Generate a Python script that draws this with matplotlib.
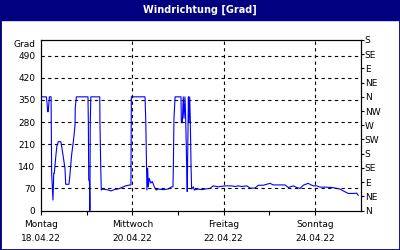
import matplotlib.pyplot as plt
from matplotlib.patches import Rectangle

# hours since 18.04.22 00:00 and wind direction in degrees
hours = [0, 2.8, 3.2, 3.5, 3.8, 4.4, 5.3, 5.6, 6.3, 6.7, 7.0, 7.7, 8.3, 9.1, 10.4,
         10.9, 11.7, 12.6, 13.0, 14.7, 15.2, 16.1, 17.0, 17.4, 17.9, 18.0, 18.6,
         24.7, 24.9, 25.1, 25.5, 25.7, 25.9, 26.2, 30.9, 31.0, 31.4, 31.7, 32.6,
         35.4, 36.8, 38.9, 40.6, 43.3, 44.5, 46.8, 47.3, 47.5, 54.7, 55.1, 55.7,
         56.1, 56.4, 56.9, 57.7, 58.5, 59.6, 60.5, 61.7, 64.3, 66.9, 68.7, 69.4,
         69.6, 69.9, 70.5, 73.6, 73.8, 74.3, 74.8, 75.2, 75.7, 76.1, 76.6, 76.9,
         77.5, 77.8, 78.2, 78.5, 78.9, 79.2, 80.1, 80.6, 82.7, 84.5, 86.2, 88.9,
         90.6, 93.2, 96.7, 100.3, 102.0, 103.7, 105.5, 108.2, 109.9, 112.5, 114.3,
         116.9, 120.4, 122.1, 128.3, 130.0, 132.7, 134.4, 136.2, 137.9, 140.5,
         142.0, 143.2, 145.0, 146.7, 149.3, 152.9, 157.2, 159.9, 161.6, 164.2,
         166.0, 166.8]
grad = [360, 360, 340, 313, 313, 360, 360, 118, 33, 118, 118, 166, 202, 218, 218,
        202, 170, 134, 83, 83, 112, 176, 218, 240, 271, 324, 360,
        360, 276, 97, 91, 0, 276, 360, 360, 278, 139, 65, 68,
        65, 62, 67, 68, 75, 78, 81, 81, 360, 360, 281, 65,
        134, 75, 102, 87, 92, 75, 65, 68, 66, 68, 75, 75,
        139, 287, 360, 360, 278, 278, 360, 292, 360, 287, 139, 60,
        360, 278, 360, 287, 139, 68, 75, 65, 68, 66, 68, 70,
        78, 75, 78, 78, 76, 78, 76, 78, 71, 71, 80,
        80, 86, 81, 81, 73, 78, 73, 70, 80, 86,
        81, 78, 78, 74, 74, 73, 68, 59, 54, 54,
        55, 48]

day_ticks = [0, 24, 48, 72, 96, 120, 144]
day_labels = ['Montag\n18.04.22', '', 'Mittwoch\n20.04.22', '',
              'Freitag\n22.04.22', '', 'Sonntag\n24.04.22']
grad_ticks = [0, 70, 140, 210, 280, 350, 420, 490]
dir_ticks = list(range(0, 541, 45))
dir_labels = ['N', 'NE', 'E', 'SE', 'S', 'SW', 'W', 'NW', 'N', 'NE', 'E', 'SE', 'S']

navy = '#000080'
plt.rcParams['font.family'] = 'DejaVu Sans'
plt.rcParams['font.size'] = 6.5

fig = plt.figure(figsize=(4, 2.5), dpi=100)
fig.patches.append(Rectangle((0, 1 - 20 / 250), 1, 20 / 250, transform=fig.transFigure,
                             color=navy, zorder=0))
fig.patches.append(Rectangle((0, 0), 1, 1, transform=fig.transFigure, fill=False,
                             edgecolor=navy, lw=2, zorder=0))
fig.text(0.5, 1 - 10 / 250, 'Windrichtung [Grad]', color='white', fontweight='bold',
         fontsize=7, ha='center', va='center')

ax = fig.add_axes([41 / 400, 1 - 210.5 / 250, 319.5 / 400, 170.5 / 250])
ax.plot(hours, grad, color='#0000ff', lw=0.8)
ax.set_xlim(0, 168)
ax.set_ylim(0, 540)

ax.set_yticks(grad_ticks)
ax.tick_params(axis='y', length=0, pad=4)
ax.set_xticks(day_ticks)
ax.set_xticklabels(day_labels, linespacing=1.75)
ax.tick_params(axis='x', length=3, width=0.8, pad=3.5)

for h in [48, 96, 144]:
    ax.axvline(h, color='k', lw=0.8, ls=(0, (3, 3)))
for g in grad_ticks[1:]:
    ax.axhline(g, color='k', lw=0.8, ls=(0, (3, 3)))

for s in ax.spines.values():
    s.set_linewidth(0.8)

ax2 = ax.twinx()
ax2.set_ylim(0, 540)
ax2.set_yticks(dir_ticks)
ax2.set_yticklabels(dir_labels)
ax2.tick_params(axis='y', length=2, width=0.8, pad=1)

fig.text(36 / 400, 1 - 45 / 250, 'Grad', ha='right', va='center')

fig.savefig('out.png', dpi=100)
